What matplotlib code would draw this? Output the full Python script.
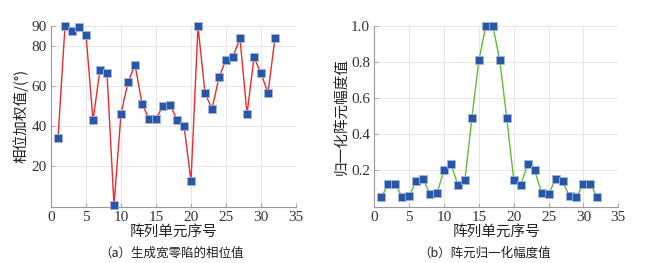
import matplotlib
matplotlib.use("Agg")
import matplotlib.pyplot as plt
import numpy as np

elements = list(range(1, 33))
phase = [34, 89.7, 87.4, 89.2, 85.5, 42.9, 68.1, 66.3, 0.7, 46.2, 61.8, 70.6,
         51.2, 43.6, 43.7, 50.0, 50.7, 43.1, 40.2, 12.7, 89.7, 56.5, 48.5, 64.3,
         73.1, 74.6, 83.7, 46.0, 74.2, 66.3, 56.5, 84.0]
amp = [0.051, 0.123, 0.124, 0.054, 0.056, 0.141, 0.150, 0.069, 0.075, 0.200,
       0.233, 0.119, 0.148, 0.489, 0.808, 1.0, 1.0, 0.808, 0.489, 0.148, 0.119,
       0.233, 0.200, 0.075, 0.069, 0.150, 0.141, 0.056, 0.054, 0.124, 0.123, 0.051]

xticks = [0, 5, 10, 15, 20, 25, 30, 35]
yticks_a = [20, 40, 60, 80, 90]
yticks_b = [0.2, 0.4, 0.6, 0.8, 1.0]
ytick_labels_b = ["0.2", "0.4", "0.6", "0.8", "1.0"]

xlabel = "阵列单元序号"
ylabel_a = "相位加权值/(°)"
ylabel_b = "归一化阵元幅度值"
caption_a = "（a）生成宽零陷的相位值"
caption_b = "（b）阵元归一化幅度值"

cjk = ["Noto Sans CJK SC", "DejaVu Sans"]
serif = ["Liberation Serif", "DejaVu Serif"]

W, H = 668, 263
fig = plt.figure(figsize=(W / 100, H / 100), dpi=100)

def make_ax(x0, x1, y0, y1):
    return fig.add_axes([x0 / W, 1 - y1 / H, (x1 - x0) / W, (y1 - y0) / H])

ax1 = make_ax(51, 296, 25.7, 206.5)
ax2 = make_ax(374.3, 618.3, 25.7, 206.5)

marker_color = "#2a56a8"
for ax, vals, lc in [(ax1, phase, "#ee2a2a"), (ax2, amp, "#66bb33")]:
    ax.plot(elements, vals, color=lc, lw=1.0, marker="s", markersize=5.8,
            markerfacecolor=marker_color, markeredgecolor="#9fb6dd",
            markeredgewidth=0.6, zorder=3, clip_on=False)
    ax.set_xlim(0, 35)
    ax.set_xticks(xticks)
    ax.grid(True, color="#e6e6e6", lw=0.7)
    ax.set_axisbelow(True)
    for s in ["top", "right"]:
        ax.spines[s].set_visible(False)
    for s in ["left", "bottom"]:
        ax.spines[s].set_color("#999999")
        ax.spines[s].set_linewidth(0.8)
    ax.tick_params(direction="in", length=3, width=0.6, color="#999999",
                   labelsize=11, labelcolor="#333333", pad=3)
    for lab in ax.get_xticklabels() + ax.get_yticklabels():
        lab.set_family(serif)
    ax.set_xlabel(xlabel, family=cjk, fontsize=10.5, color="#222222", labelpad=1)

ax1.set_ylim(0, 90)
ax1.set_yticks(yticks_a)
ax1.set_yticklabels([str(v) for v in yticks_a], family=serif)
ax1.set_ylabel(ylabel_a, family=cjk, fontsize=10.5, color="#222222", labelpad=2)

ax2.set_ylim(0, 1.0)
ax2.set_yticks(yticks_b)
ax2.set_yticklabels(ytick_labels_b, family=serif)
ax2.set_ylabel(ylabel_b, family=cjk, fontsize=10.5, color="#222222", labelpad=2)

fig.text(172 / W, 1 - 253 / H, caption_a, family=cjk, fontsize=9,
         ha="center", va="center", color="#222222")
fig.text(485 / W, 1 - 253 / H, caption_b, family=cjk, fontsize=9,
         ha="center", va="center", color="#222222")

fig.savefig("out.png", dpi=100)
